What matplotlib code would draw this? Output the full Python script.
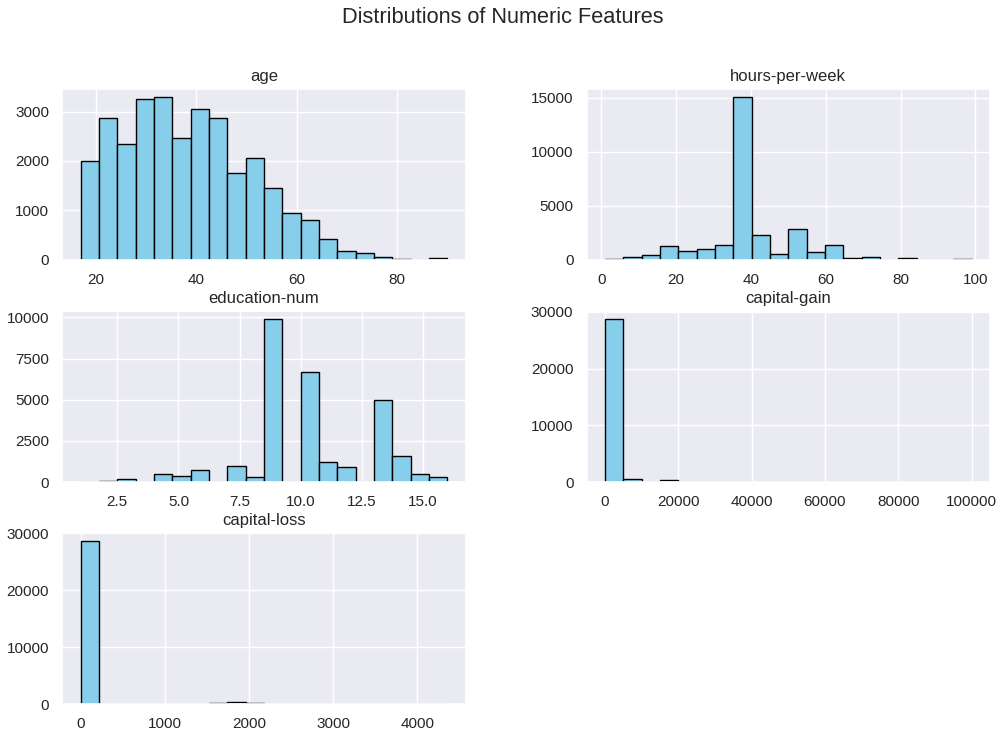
import numpy as np
import seaborn as sns
from matplotlib import pyplot as plt

sns.set_theme()
plt.rcParams["font.family"] = ["Liberation Sans", "DejaVu Sans"]

# counts per bin (20 bins each)
age_range = (17, 90)
age_counts = [2000, 2870, 2340, 3250, 3290, 2460, 3060, 2870, 1750, 2060,
              1450, 940, 810, 430, 185, 130, 60, 15, 5, 35]

hours_range = (1, 99)
hours_counts = [40, 230, 450, 1280, 800, 1000, 1380, 15060, 2320, 540,
                2860, 720, 1380, 180, 250, 30, 180, 0, 0, 60]

edu_range = (1, 16)
edu_counts = [0, 80, 170, 0, 470, 370, 715, 0, 970, 285,
              9880, 0, 6660, 1200, 920, 0, 4990, 1590, 470, 285]

gain_range = (0, 99999)
gain_counts = [28700, 600, 0, 350, 0, 20, 0, 0, 0, 0,
               0, 0, 0, 0, 0, 0, 0, 0, 0, 0]

loss_range = (0, 4356)
loss_counts = [28600, 0, 0, 5, 0, 5, 40, 200, 450, 200,
               40, 40, 5, 0, 0, 0, 0, 0, 0, 2]

features = ["age", "hours-per-week", "education-num", "capital-gain", "capital-loss"]
ranges = [age_range, hours_range, edu_range, gain_range, loss_range]
counts = [age_counts, hours_counts, edu_counts, gain_counts, loss_counts]

fig, axes = plt.subplots(3, 2, figsize=(10.05, 7.42))
axes = axes.ravel()
for ax, name, (lo, hi), c in zip(axes, features, ranges, counts):
    edges = np.linspace(lo, hi, len(c) + 1)
    centers = (edges[:-1] + edges[1:]) / 2
    ax.hist(centers, bins=edges, weights=c, color="skyblue", edgecolor="black")
    ax.set_title(name)
    ax.grid(True)
axes[-1].set_visible(False)

fig.subplots_adjust(left=0.062, right=0.985, top=0.88, bottom=0.051,
                    wspace=0.3, hspace=0.3)
fig.suptitle("Distributions of Numeric Features", fontsize=15.7, y=0.99)
plt.savefig("out.png", dpi=100)
